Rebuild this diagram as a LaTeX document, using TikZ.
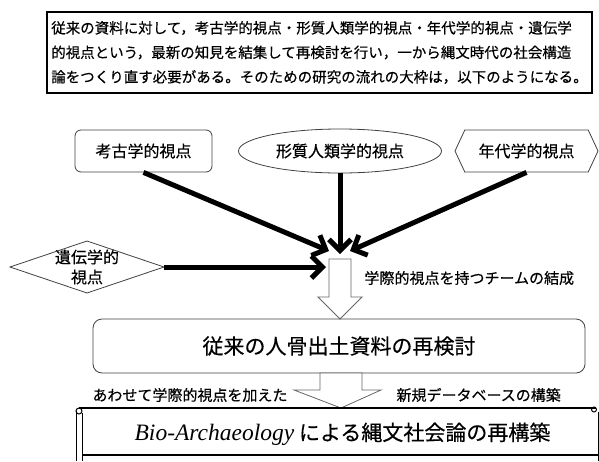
\documentclass[tikz,border=0pt]{standalone}
\usepackage{fontspec}
\setmainfont{Noto Sans CJK JP}[FakeBold=0.4]
\newfontfamily\latinserif{Liberation Serif}
\usetikzlibrary{shapes.geometric,shapes.symbols,arrows.meta}
\begin{document}
\begin{tikzpicture}[x=1pt,y=-1pt,
  jp/.style={font=\fontsize{15}{18}\selectfont},
  vp/.style={font=\fontsize{16}{19}\selectfont},
  big/.style={font=\fontsize{21}{25}\selectfont},
  thinline/.style={draw=black!75, line width=0.8pt},
  thickarrow/.style={line width=5pt, -{Straight Barb[length=11pt,width=22pt]}},
  block/.style={draw=black!60, fill=white, line width=0.8pt}]
\useasboundingbox (0,0) rectangle (599,461);
% intro text box
\node[draw, line width=1.2pt, minimum width=545pt, minimum height=81pt, inner sep=0pt,
      align=left, font=\fontsize{14.5}{24.5}\selectfont] (intro) at (319.5,52.5)
 {従来の資料に対して，考古学的視点・形質人類学的視点・年代学的視点・遺伝学\\
  的視点という，最新の知見を結集して再検討を行い，一から縄文時代の社会構造\\
  論をつくり直す必要がある。そのための研究の流れの大枠は，以下のようになる。};
% viewpoints
\node[thinline, rounded corners=6pt, minimum width=137pt, minimum height=42pt, vp] (kouko) at (143.5,151) {考古学的視点};
\node[thinline, ellipse, minimum width=203pt, minimum height=44pt, vp] (keishitsu) at (340,151) {形質人類学的視点};
\node[thinline, signal, signal to=west and east, signal pointer angle=130, minimum width=143pt, minimum height=42pt, vp] (nendai) at (526.5,151) {年代学的視点};
\node[align=center, font=\fontsize{16}{20}\selectfont] (iden) at (87,267) {遺伝学的\\視点};
\coordinate (idenW) at (10,267);
\coordinate (idenN) at (87,241);
\coordinate (idenE) at (164,267);
\coordinate (idenS) at (87,293);
\draw[thinline] (idenW) -- (idenN) -- (idenE) -- (idenS) -- cycle;
% converging arrows
\coordinate (tipL) at (329,251);
\coordinate (tipM) at (340,254);
\coordinate (tipR) at (350,251);
\coordinate (tipH) at (326,267);
\draw[thickarrow] (kouko.south) -- (tipL);
\draw[thickarrow] (keishitsu.south) -- (tipM);
\draw[thickarrow] (nendai.south) -- (tipR);
\draw[thickarrow] (idenE) -- (tipH);
% block arrow 1
\draw[block] (329,259) -- (351,259) -- (351,297) -- (362,297) -- (340,319) -- (318,297) -- (329,297) -- cycle;
\node[jp, anchor=west] (team) at (361,278) {学際的視点を持つチームの結成};
% re-examination box
\node[thinline, rounded corners=9pt, minimum width=492pt, minimum height=54pt, big] (saiken) at (339,346) {従来の人骨出土資料の再検討};
% block arrow 2
\draw[block] (320,373) -- (362,373) -- (362,390) -- (381,390) -- (341,408) -- (294,390) -- (320,390) -- cycle;
\node[jp, anchor=east] (awase) at (291,395) {あわせて学際的視点を加えた};
\node[jp, anchor=west] (shinki) at (393,395) {新規データベースの構築};
% scroll
\draw[line width=1.6pt] (79,408) -- (596,408);
\draw[line width=1pt] (76,411) -- (76,461);
\draw[line width=1pt] (82,413) -- (82,461);
\draw[line width=1pt] (79,411) circle (3);
\draw[line width=1pt] (594,409.5) circle (2.5);
\draw[line width=1pt] (598,412) -- (598,461);
\draw[line width=1.2pt] (82,455) -- (599,455);
\node[big] (title) at (342.5,434) {{\latinserif\itshape\fontsize{23.5}{25}\selectfont Bio-Archaeology} による縄文社会論の再構築};
\end{tikzpicture}
\end{document}
